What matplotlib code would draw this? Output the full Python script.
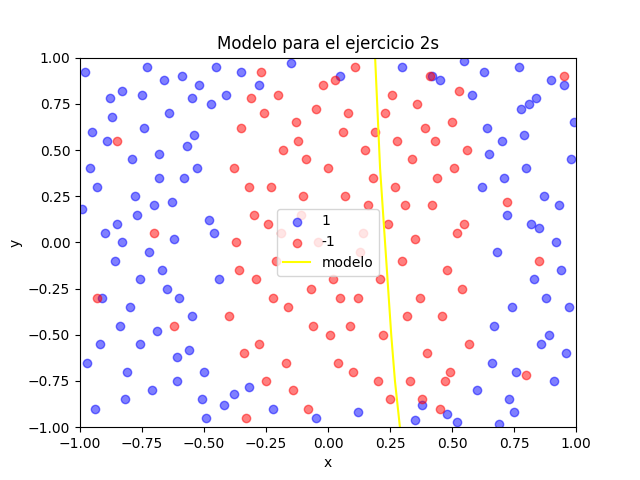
import matplotlib
matplotlib.use("Agg")
import matplotlib.pyplot as plt

# class 1 (blue)
x_pos = [-0.98, -0.95, -0.91, -0.88, -0.85, -0.82, -0.79, -0.76, -0.73, -0.70,
         -0.67, -0.64, -0.61, -0.58, -0.55, -0.52, -0.49, -0.46, -0.97, -0.93,
         -0.89, -0.86, -0.83, -0.80, -0.77, -0.74, -0.71, -0.68, -0.65, -0.62,
         -0.59, -0.56, -0.53, -0.50, -0.47, -0.44, -0.99, -0.94, -0.90, -0.84,
         -0.78, -0.72, -0.66, -0.60, -0.54, -0.48, -0.42, -0.96, -0.87, -0.81,
         -0.75, -0.69, -0.63, -0.57, -0.51, -0.45, -0.92, -0.83, -0.76, -0.68,
         -0.61, -0.55, -0.41, -0.38, -0.35, -0.32, -0.28, -0.22, -0.15, -0.05,
         0.05, 0.12, 0.30, 0.38, 0.45, 0.52, 0.58, 0.62, 0.66, 0.70,
         0.74, 0.78, 0.82, 0.86, 0.90, 0.94, 0.98, 0.60, 0.64, 0.68,
         0.72, 0.76, 0.80, 0.84, 0.88, 0.92, 0.96, 0.99, 0.63, 0.67,
         0.71, 0.75, 0.79, 0.83, 0.87, 0.91, 0.95, 0.97, 0.65, 0.73,
         0.81, 0.89, 0.93, 0.69, 0.77, 0.85, 0.55, 0.48, 0.42, 0.35]
y_pos = [0.92, 0.60, -0.30, 0.78, 0.10, -0.85, 0.45, -0.55, 0.95, 0.20,
         -0.15, 0.70, -0.75, 0.35, -0.40, 0.85, -0.95, 0.05, -0.65, 0.30,
         0.55, -0.10, 0.82, -0.35, 0.15, 0.62, -0.80, 0.48, -0.25, 0.02,
         0.90, -0.58, 0.40, -0.70, 0.75, -0.20, 0.18, -0.90, 0.05, -0.45,
         0.25, -0.05, 0.88, -0.30, 0.58, 0.12, -0.88, 0.40, 0.68, -0.70,
         0.80, -0.48, 0.22, 0.52, -0.85, 0.95, -0.55, 0.00, -0.20, 0.35,
         -0.62, 0.78, 0.80, -0.82, 0.92, -0.78, 0.85, -0.90, 0.97, -0.95,
         0.90, -0.92, 0.95, -0.88, 0.88, -0.97, 0.80, 0.30, -0.65, 0.55,
         -0.35, 0.72, 0.10, -0.55, 0.88, -0.15, 0.45, -0.80, 0.62, -0.05,
         0.15, -0.70, 0.40, 0.78, -0.30, 0.00, -0.60, 0.65, 0.92, -0.45,
         0.35, -0.92, 0.58, -0.20, 0.25, -0.75, 0.85, -0.35, 0.48, -0.85,
         0.75, -0.50, 0.20, -0.98, 0.95, 0.08, 0.98, -0.93, 0.90, -0.96]

# class -1 (red)
x_neg = [-0.38, -0.34, -0.30, -0.26, -0.22, -0.18, -0.14, -0.10, -0.06, -0.02,
         0.02, 0.06, 0.10, 0.14, 0.18, 0.22, 0.26, 0.30, 0.34, 0.38,
         0.42, 0.46, 0.50, 0.54, -0.36, -0.32, -0.28, -0.24, -0.20, -0.16,
         -0.12, -0.08, -0.04, 0.00, 0.04, 0.08, 0.12, 0.16, 0.20, 0.24,
         0.28, 0.32, 0.36, 0.40, 0.44, 0.48, 0.52, 0.56, -0.40, -0.35,
         -0.29, -0.23, -0.17, -0.11, -0.05, 0.01, 0.07, 0.13, 0.19, 0.25,
         0.31, 0.37, 0.43, 0.49, 0.55, -0.37, -0.31, -0.25, -0.19, -0.13,
         -0.07, 0.03, 0.09, 0.15, 0.21, 0.27, 0.33, 0.39, 0.45, 0.51,
         0.57, -0.33, -0.27, -0.21, -0.09, 0.05, 0.11, 0.23, 0.35, 0.41,
         0.47, 0.53, -0.85, -0.70, -0.62, 0.72, 0.85, 0.95, -0.93, 0.80]
y_neg = [0.40, -0.60, 0.15, 0.70, -0.30, 0.50, -0.80, 0.25, -0.45, 0.85,
         -0.20, 0.60, -0.70, 0.05, 0.35, -0.50, 0.80, -0.10, 0.45, -0.85,
         0.20, -0.40, 0.65, -0.25, -0.15, 0.30, -0.55, 0.10, 0.80, -0.35,
         0.55, -0.90, 0.00, 0.40, -0.65, 0.70, -0.30, 0.20, -0.75, 0.10,
         0.55, -0.40, 0.75, -0.60, 0.35, -0.15, 0.05, 0.50, -0.40, 0.62,
         -0.20, 0.30, -0.65, 0.15, 0.72, -0.50, 0.25, -0.05, 0.60, -0.85,
         0.20, -0.30, 0.55, -0.70, 0.10, 0.00, 0.78, -0.75, 0.05, 0.65,
         -0.25, 0.88, -0.45, 0.50, -0.20, 0.30, -0.75, 0.62, -0.90, 0.40,
         -0.55, -0.95, 0.92, -0.10, 0.45, -0.30, 0.95, 0.70, 0.02, 0.90,
         -0.75, 0.82, 0.55, 0.05, -0.45, 0.22, -0.10, 0.90, -0.30, -0.72]

# fitted boundary
model_x = [0.19, 0.20, 0.21, 0.225, 0.24, 0.255, 0.27, 0.29]
model_y = [1.0, 0.70, 0.40, 0.10, -0.20, -0.50, -0.75, -1.0]

plt.figure(figsize=(6.4, 4.8), dpi=100)
plt.scatter(x_pos, y_pos, c='blue', alpha=0.5, label='1')
plt.scatter(x_neg, y_neg, c='red', alpha=0.5, label='-1')
plt.plot(model_x, model_y, c='yellow', label='modelo')
plt.xlim(-1, 1)
plt.ylim(-1, 1)
plt.xlabel('x')
plt.ylabel('y')
plt.title('Modelo para el ejercicio 2s')
plt.legend(loc='center')
plt.savefig('out.png')
